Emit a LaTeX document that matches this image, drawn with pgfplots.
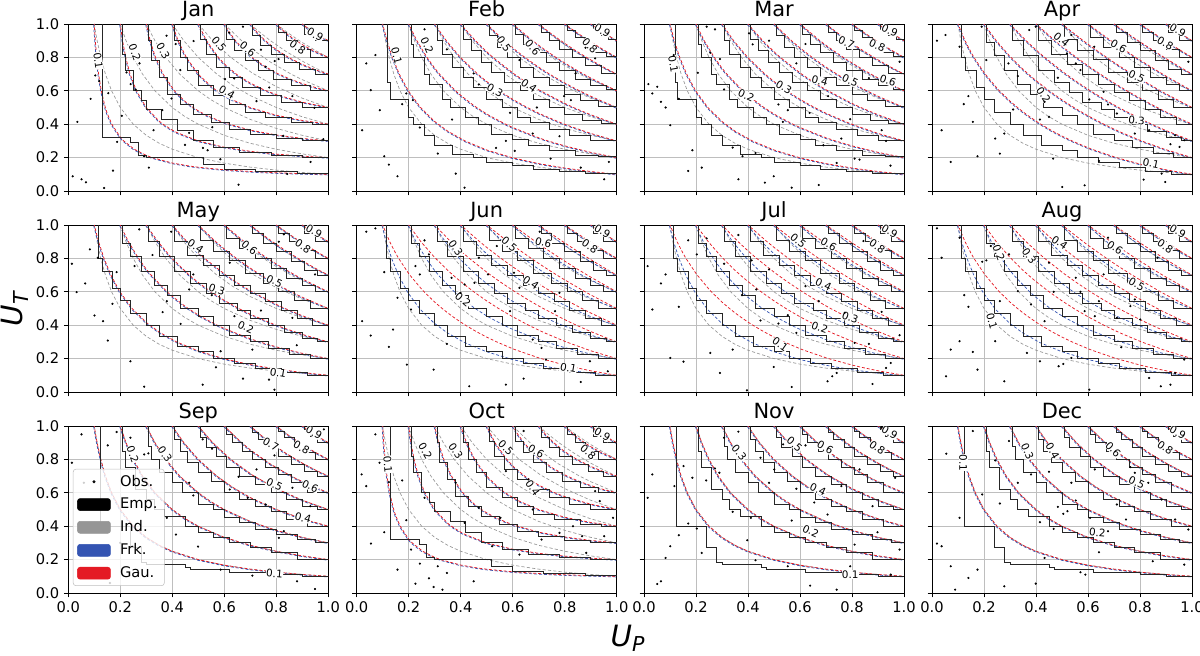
\documentclass[border=0pt]{standalone}
\usepackage{fontspec}
\setmainfont{DejaVu Sans}
\usepackage{pgfplots}
\usepackage{pgfplotstable}
\pgfplotsset{compat=1.18}
\definecolor{gau}{RGB}{228,26,36}
\definecolor{frk}{RGB}{52,84,178}
\definecolor{ind}{RGB}{150,150,150}
\definecolor{gridc}{RGB}{190,190,190}
% ---------- copula contour tables (levels 0.1 ... 0.9, separated by nan rows)
\pgfplotstableread{
x y
0.1 1
0.105 0.952
0.1111 0.9
0.125 0.8
0.1429 0.7
0.1667 0.6
0.2 0.5
0.25 0.4
0.3 0.3333
0.35 0.2857
0.4 0.25
0.5 0.2
0.6 0.1667
0.7 0.1429
0.8 0.125
0.9 0.1111
1 0.1
nan nan
0.2 1
0.2222 0.9
0.25 0.8
0.2857 0.7
0.3333 0.6
0.4 0.5
0.4472 0.4472
0.5 0.4
0.6 0.3333
0.7 0.2857
0.8 0.25
0.9 0.2222
1 0.2
nan nan
0.3 1
0.3333 0.9
0.375 0.8
0.4286 0.7
0.5 0.6
0.5477 0.5477
0.6 0.5
0.7 0.4286
0.8 0.375
0.9 0.3333
1 0.3
nan nan
0.4 1
0.4444 0.9
0.5 0.8
0.5714 0.7
0.6325 0.6325
0.7 0.5714
0.8 0.5
0.9 0.4444
1 0.4
nan nan
0.5 1
0.5556 0.9
0.625 0.8
0.7071 0.7071
0.8 0.625
0.9 0.5556
1 0.5
nan nan
0.6 1
0.6667 0.9
0.7 0.8571
0.7746 0.7746
0.8571 0.7
0.9 0.6667
1 0.6
nan nan
0.7 1
0.7368 0.95
0.7778 0.9
0.8367 0.8367
0.9 0.7778
0.95 0.7368
1 0.7
nan nan
0.8 1
0.8421 0.95
0.8944 0.8944
0.95 0.8421
1 0.8
nan nan
0.9 1
0.925 0.973
0.9487 0.9487
0.973 0.925
1 0.9
}\tabI
\pgfplotstableread{
x y
0.1 1
0.104 0.9
0.1093 0.8
0.1166 0.7
0.127 0.6
0.1425 0.5
0.15 0.4641
0.1675 0.4
0.2 0.3226
0.2134 0.3
0.254 0.25
0.3 0.2134
0.3226 0.2
0.4 0.1675
0.4641 0.15
0.5 0.1425
0.6 0.127
0.7 0.1166
0.8 0.1093
0.9 0.104
1 0.1
nan nan
0.2 1
0.2089 0.9
0.2209 0.8
0.2377 0.7
0.2621 0.6
0.2998 0.5
0.35 0.4177
0.3645 0.4
0.4 0.3645
0.4177 0.35
0.5 0.2998
0.6 0.2621
0.7 0.2377
0.8 0.2209
0.9 0.2089
1 0.2
nan nan
0.3 1
0.315 0.9
0.3355 0.8
0.3647 0.7
0.4085 0.6
0.45 0.5356
0.4801 0.5
0.5 0.4801
0.5356 0.45
0.6 0.4085
0.7 0.3647
0.8 0.3355
0.9 0.315
1 0.3
nan nan
0.4 1
0.4225 0.9
0.4539 0.8
0.4998 0.7
0.55 0.6254
0.5719 0.6
0.6 0.5719
0.6254 0.55
0.7 0.4998
0.8 0.4539
0.9 0.4225
1 0.4
nan nan
0.5 1
0.5318 0.9
0.5773 0.8
0.6 0.762
0.6079 0.75
0.6463 0.7
0.65 0.6958
0.6958 0.65
0.7 0.6463
0.75 0.6079
0.762 0.6
0.8 0.5773
0.9 0.5318
1 0.5
nan nan
0.6 1
0.6198 0.95
0.6435 0.9
0.6722 0.85
0.7 0.8098
0.7075 0.8
0.752 0.75
0.8 0.7075
0.8098 0.7
0.85 0.6722
0.9 0.6435
0.95 0.6198
1 0.6
nan nan
0.7 1
0.7262 0.95
0.7581 0.9
0.7974 0.85
0.8 0.847
0.847 0.8
0.85 0.7974
0.9 0.7581
0.95 0.7262
1 0.7
nan nan
0.8 1
0.8342 0.95
0.85 0.9301
0.8765 0.9
0.9 0.8765
0.9301 0.85
0.95 0.8342
1 0.8
nan nan
0.9 1
0.925 0.9703
0.9442 0.95
0.95 0.9442
0.9703 0.925
1 0.9
}\tabP
\pgfplotstableread{
x y
0.1 1
0.1167 0.9
0.1376 0.8
0.164 0.7
0.1987 0.6
0.2457 0.5
0.3 0.4165
0.35 0.3585
0.4165 0.3
0.5 0.2457
0.6 0.1987
0.7 0.164
0.8 0.1376
0.9 0.1167
1 0.1
nan nan
0.2 1
0.2316 0.9
0.2704 0.8
0.3 0.7359
0.3187 0.7
0.3803 0.6
0.4 0.573
0.45 0.5125
0.4615 0.5
0.5 0.4615
0.5125 0.45
0.573 0.4
0.6 0.3803
0.7 0.3187
0.7359 0.3
0.8 0.2704
0.9 0.2316
1 0.2
nan nan
0.3 1
0.3449 0.9
0.3991 0.8
0.4656 0.7
0.5 0.6558
0.5488 0.6
0.6 0.5488
0.6558 0.5
0.7 0.4656
0.7985 0.4
0.9 0.3449
1 0.3
nan nan
0.4 1
0.4568 0.9
0.5 0.8341
0.5245 0.8
0.6063 0.7
0.65 0.6539
0.6539 0.65
0.7 0.6063
0.8 0.5245
0.8341 0.5
0.9 0.4568
1 0.4
nan nan
0.5 1
0.5674 0.9
0.6 0.8569
0.6469 0.8
0.6921 0.75
0.7 0.7417
0.7417 0.7
0.75 0.6921
0.8 0.6469
0.8569 0.6
0.9 0.5674
1 0.5
nan nan
0.6 1
0.6769 0.9
0.7 0.8728
0.72 0.85
0.7667 0.8
0.8 0.7667
0.85 0.72
0.8728 0.7
0.9 0.6769
1 0.6
nan nan
0.7 1
0.7412 0.95
0.7855 0.9
0.8 0.8843
0.833 0.85
0.85 0.833
0.8843 0.8
0.9 0.7855
0.95 0.7412
1 0.7
nan nan
0.8 1
0.845 0.95
0.8931 0.9
0.9 0.8931
0.95 0.845
1 0.8
nan nan
0.9 1
0.925 0.9738
0.9484 0.95
0.95 0.9484
0.9738 0.925
1 0.9
}\tabW
\pgfplotstableread{
x y
0.1 1
0.1271 0.9
0.15 0.8308
0.1614 0.8
0.2 0.7097
0.2047 0.7
0.25 0.6154
0.2593 0.6
0.3 0.5385
0.3289 0.5
0.35 0.474
0.3708 0.45
0.4 0.4187
0.4187 0.4
0.45 0.3708
0.474 0.35
0.5 0.3289
0.5385 0.3
0.6 0.2593
0.6154 0.25
0.7 0.2047
0.7097 0.2
0.8 0.1614
0.8308 0.15
0.9 0.1271
1 0.1
nan nan
0.2 1
0.2471 0.9
0.3 0.8057
0.35 0.7289
0.3706 0.7
0.4 0.6612
0.45 0.6005
0.4959 0.55
0.5 0.5457
0.5457 0.5
0.55 0.4959
0.6 0.4504
0.6612 0.4
0.7 0.3706
0.7289 0.35
0.8057 0.3
0.9 0.2471
1 0.2
nan nan
0.3 1
0.362 0.9
0.4 0.845
0.4334 0.8
0.5 0.7177
0.5154 0.7
0.55 0.6615
0.6 0.6093
0.6093 0.6
0.6615 0.55
0.7 0.5154
0.7177 0.5
0.8 0.4334
0.845 0.4
0.9 0.362
1 0.3
nan nan
0.4 1
0.4732 0.9
0.5 0.8661
0.5553 0.8
0.6 0.7499
0.6471 0.7
0.65 0.697
0.697 0.65
0.7 0.6471
0.75 0.5999
0.8 0.5553
0.8661 0.5
0.9 0.4732
1 0.4
nan nan
0.5 1
0.5817 0.9
0.6 0.8788
0.6715 0.8
0.7 0.7701
0.7196 0.75
0.75 0.7196
0.7701 0.7
0.8 0.6715
0.8788 0.6
0.9 0.5817
1 0.5
nan nan
0.6 1
0.6882 0.9
0.7 0.8872
0.735 0.85
0.7837 0.8
0.8 0.7837
0.85 0.735
0.8872 0.7
0.9 0.6882
1 0.6
nan nan
0.7 1
0.7458 0.95
0.7932 0.9
0.8 0.8929
0.8422 0.85
0.85 0.8422
0.8929 0.8
0.9 0.7932
0.95 0.7458
1 0.7
nan nan
0.8 1
0.8478 0.95
0.85 0.9477
0.897 0.9
0.9 0.897
0.9477 0.85
0.95 0.8478
1 0.8
nan nan
0.9 1
0.925 0.9745
0.9494 0.95
0.95 0.9494
0.9745 0.925
1 0.9
}\tabN
% ---------- empirical copula contours (step lines)
\pgfplotstableread{
x y
0.12 1
0.13 0.65
0.2 0.55
0.22 0.44
0.26 0.4
0.3 0.33
0.37 0.27
0.45 0.22
0.5 0.2
0.6 0.17
0.68 0.15
0.78 0.13
0.88 0.115
1 0.105
nan nan
0.21 1
0.22 0.88
0.26 0.8
0.28 0.7
0.33 0.64
0.36 0.55
0.42 0.5
0.47 0.44
0.52 0.4
0.6 0.34
0.66 0.31
0.74 0.27
0.84 0.24
0.93 0.215
1 0.205
nan nan
0.31 1
0.33 0.9
0.37 0.82
0.41 0.74
0.45 0.68
0.5 0.62
0.56 0.55
0.62 0.5
0.67 0.44
0.74 0.41
0.82 0.37
0.9 0.33
1 0.305
nan nan
0.41 1
0.44 0.91
0.48 0.84
0.52 0.77
0.57 0.71
0.63 0.65
0.68 0.6
0.74 0.55
0.8 0.5
0.87 0.46
0.94 0.42
1 0.405
nan nan
0.51 1
0.54 0.93
0.58 0.86
0.63 0.8
0.68 0.74
0.74 0.68
0.8 0.63
0.86 0.58
0.93 0.54
1 0.505
nan nan
0.61 1
0.64 0.94
0.68 0.88
0.73 0.83
0.78 0.77
0.84 0.72
0.9 0.67
0.96 0.63
1 0.605
nan nan
0.71 1
0.74 0.95
0.78 0.9
0.83 0.85
0.88 0.8
0.94 0.75
1 0.705
nan nan
0.81 1
0.84 0.96
0.88 0.92
0.92 0.87
0.96 0.83
1 0.805
nan nan
0.91 1
0.94 0.97
0.97 0.93
1 0.905
}\tabEIa
\pgfplotstableread{
x y
0.125 1
0.24 0.4
0.28 0.27
0.3 0.18
0.45 0.17
0.47 0.15
0.62 0.14
0.8 0.12
0.9 0.11
1 0.1
nan nan
0.21 1
0.22 0.85
0.26 0.75
0.3 0.62
0.33 0.56
0.37 0.5
0.45 0.46
0.5 0.4
0.56 0.36
0.62 0.33
0.7 0.3
0.78 0.27
0.88 0.24
1 0.2
nan nan
0.31 1
0.32 0.88
0.35 0.8
0.4 0.72
0.44 0.66
0.5 0.6
0.56 0.53
0.6 0.5
0.66 0.45
0.72 0.42
0.8 0.38
0.88 0.35
0.95 0.32
1 0.3
nan nan
0.41 1
0.43 0.92
0.46 0.85
0.5 0.78
0.55 0.72
0.6 0.67
0.66 0.6
0.72 0.56
0.78 0.52
0.84 0.49
0.92 0.44
1 0.4
nan nan
0.51 1
0.53 0.93
0.57 0.87
0.61 0.82
0.66 0.75
0.72 0.7
0.78 0.65
0.84 0.6
0.9 0.56
0.96 0.52
1 0.5
nan nan
0.61 1
0.63 0.95
0.67 0.9
0.71 0.85
0.76 0.8
0.81 0.75
0.86 0.71
0.92 0.66
1 0.6
nan nan
0.71 1
0.73 0.96
0.77 0.92
0.81 0.87
0.86 0.82
0.91 0.77
0.96 0.73
1 0.7
nan nan
0.81 1
0.83 0.97
0.87 0.93
0.91 0.88
0.95 0.84
1 0.8
nan nan
0.91 1
0.93 0.98
0.96 0.94
1 0.9
}\tabEIb
\pgfplotstableread{
x y
0.13 1
0.24 0.32
0.27 0.29
0.3 0.21
0.52 0.2
0.6 0.16
0.72 0.13
0.88 0.115
1 0.105
nan nan
0.21 1
0.22 0.82
0.25 0.72
0.28 0.6
0.3 0.54
0.36 0.49
0.42 0.43
0.48 0.36
0.56 0.3
0.66 0.26
0.78 0.23
0.9 0.21
1 0.2
nan nan
0.31 1
0.32 0.9
0.35 0.78
0.38 0.68
0.43 0.58
0.48 0.52
0.55 0.46
0.62 0.41
0.7 0.37
0.8 0.34
0.9 0.315
1 0.3
nan nan
0.41 1
0.43 0.9
0.46 0.8
0.5 0.72
0.56 0.63
0.62 0.57
0.68 0.52
0.76 0.47
0.86 0.44
0.94 0.41
1 0.4
nan nan
0.51 1
0.53 0.91
0.57 0.82
0.62 0.74
0.67 0.68
0.74 0.62
0.82 0.57
0.9 0.53
1 0.5
nan nan
0.61 1
0.64 0.91
0.68 0.84
0.73 0.78
0.79 0.72
0.86 0.67
0.93 0.63
1 0.6
nan nan
0.71 1
0.74 0.93
0.78 0.87
0.83 0.82
0.89 0.77
0.95 0.73
1 0.7
nan nan
0.81 1
0.84 0.95
0.88 0.9
0.93 0.85
1 0.8
nan nan
0.91 1
0.95 0.94
1 0.9
}\tabEP
\pgfplotstableread{
x y
0.115 1
0.13 0.8
0.17 0.72
0.2 0.62
0.24 0.55
0.3 0.47
0.35 0.4
0.42 0.33
0.5 0.27
0.56 0.24
0.64 0.2
0.72 0.17
0.82 0.14
0.92 0.115
1 0.1
nan nan
0.21 1
0.24 0.89
0.28 0.81
0.33 0.72
0.38 0.64
0.43 0.58
0.5 0.5
0.56 0.45
0.62 0.4
0.7 0.34
0.77 0.3
0.85 0.26
0.93 0.225
1 0.2
nan nan
0.31 1
0.35 0.9
0.41 0.81
0.47 0.72
0.53 0.65
0.58 0.59
0.65 0.53
0.7 0.49
0.77 0.44
0.83 0.4
0.9 0.355
0.96 0.32
1 0.3
nan nan
0.41 1
0.46 0.9
0.52 0.82
0.58 0.76
0.64 0.7
0.7 0.64
0.76 0.59
0.82 0.54
0.88 0.49
0.94 0.44
1 0.4
nan nan
0.51 1
0.56 0.91
0.62 0.84
0.68 0.79
0.75 0.71
0.81 0.65
0.87 0.6
0.93 0.55
1 0.5
nan nan
0.61 1
0.66 0.92
0.72 0.86
0.78 0.8
0.84 0.74
0.9 0.68
0.95 0.64
1 0.6
nan nan
0.71 1
0.75 0.95
0.8 0.89
0.86 0.84
0.91 0.78
0.96 0.73
1 0.7
nan nan
0.81 1
0.85 0.95
0.9 0.9
0.95 0.85
1 0.8
nan nan
0.91 1
0.95 0.95
1 0.9
}\tabEN
% ---------- observations
\pgfplotstableread{
x y
0.017 0.088
0.051 0.07
0.068 0.052
0.138 0.018
0.035 0.414
0.086 0.552
0.104 0.692
0.119 0.658
0.154 0.586
0.188 0.294
0.172 0.122
0.206 0.45
0.224 0.71
0.24 0.64
0.274 0.764
0.259 0.608
0.292 0.208
0.31 0.14
0.328 0.364
0.362 0.484
0.378 0.93
0.397 0.554
0.413 0.88
0.431 0.724
0.449 0.276
0.465 0.348
0.482 0.898
0.518 0.258
0.536 0.244
0.554 0.382
0.585 0.19
0.603 0.67
0.619 0.948
0.638 0.674
0.655 0.038
0.672 0.984
0.724 0.538
0.741 0.846
0.759 0.744
0.773 0.62
0.794 0.778
0.809 0.79
0.827 0.33
0.862 0.568
0.842 0.102
0.932 0.174
0.947 0.498
0.981 0.31
}\dJan
\pgfplotstableread{
x y
0.037 0.764
0.072 0.814
0.054 0.604
0.021 0.364
0.089 0.484
0.106 0.208
0.124 0.158
0.157 0.088
0.175 0.52
0.191 0.584
0.216 0.544
0.243 0.38
0.261 0.968
0.312 0.224
0.347 0.848
0.367 0.428
0.381 0.104
0.415 0.02
0.45 0.704
0.47 0.638
0.536 0.258
0.574 0.3
0.59 0.468
0.608 0.24
0.626 0.784
0.677 0.344
0.693 0.5
0.746 0.194
0.78 0.328
0.798 0.568
0.824 0.544
0.842 0.704
0.862 0.14
0.88 0.858
0.917 0.794
0.952 0.07
0.97 0.174
}\dFeb
\pgfplotstableread{
x y
0.017 0.64
0.032 0.584
0.051 0.624
0.065 0.534
0.083 0.5
0.101 0.394
0.114 0.814
0.134 0.552
0.17 0.12
0.186 0.244
0.207 0.708
0.222 0.14
0.241 0.984
0.255 0.828
0.273 0.968
0.292 0.79
0.308 0.608
0.341 0.26
0.363 0.07
0.379 0.208
0.404 0.944
0.418 0.878
0.429 0.228
0.465 0.05
0.481 0.9
0.499 0.088
0.517 0.518
0.534 0.414
0.553 0.484
0.568 0.02
0.586 0.764
0.621 0.88
0.637 0.468
0.672 0.036
0.69 0.274
0.708 0.568
0.741 0.168
0.759 0.314
0.793 0.43
0.81 0.194
0.829 0.188
0.865 0.676
0.914 0.364
0.931 0.3
0.948 0.152
0.983 0.774
}\dMar
\pgfplotstableread{
x y
0.019 0.9
0.052 0.934
0.037 0.364
0.072 0.174
0.106 0.864
0.122 0.52
0.14 0.568
0.157 0.414
0.175 0.208
0.191 0.984
0.209 0.784
0.243 0.314
0.261 0.224
0.278 0.344
0.294 0.764
0.312 0.488
0.33 0.688
0.374 0.964
0.399 0.984
0.415 0.428
0.433 0.534
0.45 0.444
0.466 0.194
0.484 0.678
0.501 0.024
0.519 0.824
0.536 0.934
0.553 0.764
0.571 0.724
0.587 0.034
0.605 0.548
0.624 0.864
0.642 0.18
0.66 0.594
0.677 0.518
0.711 0.464
0.78 0.344
0.814 0.068
0.835 0.364
0.883 0.104
0.897 0.054
0.917 0.28
0.935 0.334
0.952 0.264
0.97 0.304
0.986 0.774
}\dApr
\pgfplotstableread{
x y
0.014 0.768
0.032 0.598
0.065 0.65
0.083 0.854
0.101 0.458
0.114 0.804
0.134 0.424
0.152 0.308
0.17 0.528
0.186 0.718
0.239 0.184
0.255 0.754
0.273 0.974
0.292 0.032
0.324 0.82
0.363 0.478
0.379 0.544
0.396 0.96
0.432 0.408
0.465 0.614
0.481 0.704
0.517 0.044
0.552 0.58
0.568 0.148
0.586 0.244
0.621 0.774
0.639 0.454
0.672 0.08
0.708 0.254
0.741 0.488
0.772 0.074
0.793 0.014
0.81 0.9
0.829 0.944
0.862 0.444
0.879 0.28
0.949 0.704
}\dMay
\pgfplotstableread{
x y
0.037 0.96
0.072 0.98
0.106 0.718
0.021 0.424
0.054 0.338
0.124 0.27
0.14 0.374
0.157 0.564
0.193 0.164
0.209 0.494
0.226 0.754
0.243 0.704
0.261 0.908
0.278 0.824
0.296 0.134
0.347 0.288
0.365 0.684
0.399 0.594
0.415 0.644
0.433 0.034
0.453 0.654
0.47 0.804
0.505 0.704
0.539 0.874
0.574 0.044
0.59 0.484
0.605 0.714
0.626 0.624
0.642 0.08
0.677 0.314
0.711 0.264
0.728 0.194
0.763 0.484
0.78 0.594
0.862 0.06
0.897 0.184
0.966 0.124
0.704 0.96
}\dJun
\pgfplotstableread{
x y
0.014 0.754
0.032 0.494
0.065 0.65
0.083 0.704
0.101 0.204
0.134 0.51
0.152 0.182
0.17 0.908
0.203 0.824
0.241 0.92
0.255 0.234
0.308 0.768
0.292 0.114
0.341 0.254
0.363 0.94
0.377 0.58
0.396 0.01
0.414 0.788
0.432 0.614
0.448 0.428
0.481 0.734
0.499 0.15
0.517 0.41
0.553 0.46
0.568 0.03
0.586 0.354
0.621 0.634
0.672 0.544
0.706 0.064
0.724 0.094
0.741 0.114
0.772 0.474
0.81 0.294
0.844 0.904
0.865 0.288
0.879 0.048
0.914 0.48
0.931 0.144
0.949 0.174
0.983 0.34
}\dJul
\pgfplotstableread{
x y
0.019 0.98
0.037 0.804
0.072 0.254
0.054 0.094
0.106 0.924
0.106 0.304
0.124 0.58
0.14 0.51
0.157 0.24
0.175 0.134
0.193 0.78
0.209 0.788
0.226 0.874
0.243 0.304
0.261 0.544
0.278 0.064
0.296 0.824
0.33 0.604
0.365 0.234
0.381 0.524
0.415 0.184
0.433 0.424
0.45 0.774
0.468 0.6
0.487 0.154
0.505 0.168
0.536 0.204
0.553 0.684
0.571 0.6
0.587 0.484
0.605 0.014
0.626 0.454
0.642 0.544
0.66 0.704
0.677 0.924
0.711 0.444
0.728 0.268
0.763 0.514
0.78 0.554
0.801 0.434
0.835 0.084
0.867 0.804
0.88 0.034
0.917 0.044
0.935 0.114
0.97 0.194
}\dAug
\pgfplotstableread{
x y
0.014 0.78
0.051 0.95
0.152 0.884
0.186 0.964
0.239 0.93
0.292 0.83
0.308 0.836
0.379 0.45
0.414 0.35
0.465 0.66
0.481 0.584
0.499 0.278
0.517 0.92
0.553 0.864
0.586 0.14
0.621 0.62
0.655 0.696
0.69 0.57
0.708 0.104
0.724 0.74
0.759 0.53
0.793 0.824
0.81 0.33
0.829 0.37
0.862 0.63
0.88 0.07
0.931 0.52
0.949 0.024
0.983 0.98
0.06 0.66
0.1 0.42
0.2 0.3
0.27 0.12
0.16 0.06
}\dSep
\pgfplotstableread{
x y
0.019 0.71
0.037 0.64
0.055 0.296
0.072 0.95
0.088 0.78
0.106 0.364
0.124 0.664
0.157 0.14
0.175 0.674
0.191 0.436
0.209 0.26
0.226 0.056
0.243 0.176
0.261 0.57
0.278 0.088
0.296 0.036
0.312 0.16
0.33 0.02
0.347 0.12
0.381 0.66
0.415 0.42
0.45 0.07
0.47 0.51
0.521 0.28
0.553 0.45
0.574 0.73
0.626 0.23
0.642 0.97
0.66 0.68
0.677 0.5
0.711 0.32
0.78 0.36
0.832 0.4
0.867 0.34
0.883 0.24
0.917 0.61
0.935 0.55
0.952 0.34
0.986 0.45
}\dOct
\pgfplotstableread{
x y
0.014 0.57
0.032 0.71
0.051 0.054
0.065 0.07
0.083 0.21
0.101 0.28
0.117 0.64
0.134 0.346
0.152 0.76
0.17 0.416
0.186 0.69
0.203 0.386
0.222 0.24
0.239 0.674
0.273 0.746
0.29 0.72
0.308 0.93
0.341 0.486
0.363 0.966
0.397 0.316
0.411 0.45
0.429 0.196
0.448 0.81
0.481 0.66
0.501 0.74
0.535 0.89
0.553 0.16
0.568 0.434
0.586 0.624
0.621 0.884
0.639 0.044
0.655 0.542
0.706 0.47
0.741 0.02
0.759 0.64
0.793 0.16
0.81 0.29
0.829 0.74
0.879 0.52
0.898 0.364
0.914 0.99
0.949 0.11
0.983 0.26
0.966 0.69
}\dNov
\pgfplotstableread{
x y
0.019 0.296
0.037 0.28
0.055 0.834
0.072 0.16
0.089 0.02
0.106 0.45
0.14 0.09
0.157 0.97
0.175 0.14
0.193 0.59
0.243 0.794
0.261 0.536
0.278 0.04
0.296 0.91
0.33 0.66
0.381 0.71
0.399 0.056
0.415 0.424
0.433 0.21
0.45 0.726
0.468 0.384
0.484 0.516
0.505 0.474
0.521 0.49
0.536 0.66
0.553 0.554
0.571 0.124
0.59 0.11
0.608 0.45
0.626 0.74
0.642 0.244
0.677 0.37
0.711 0.53
0.746 0.44
0.763 0.754
0.78 0.72
0.832 0.66
0.849 0.19
0.883 0.56
0.935 0.44
0.97 0.17
0.986 0.38
}\dDec
\tikzset{clab/.style={font=\fontsize{7.8}{9}\selectfont, fill=white, inner sep=0.3pt}}
\pgfplotsset{
  cpanel/.style={
    scale only axis, width=195pt, height=125.25pt, anchor=north west,
    xmin=0, xmax=1, ymin=0, ymax=1,
    xtick={0,0.2,0.4,0.6,0.8,1}, ytick={0,0.2,0.4,0.6,0.8,1},
    xticklabels={}, yticklabels={},
    grid=major, major grid style={gridc, line width=0.55pt},
    tick align=outside, tick pos=left, major tick length=3.3pt,
    tick style={black, line width=0.6pt},
    axis line style={black, line width=0.6pt},
    ticklabel style={font=\fontsize{11}{13}\selectfont},
    title style={font=\fontsize{15.7}{18}\selectfont, at={(0.5,1)}, anchor=base, yshift=-0.5pt},
    unbounded coords=jump,
  },
  leftcol/.style={yticklabels={0.0,0.2,0.4,0.6,0.8,1.0}},
  botrow/.style={xticklabels={0.0,0.2,0.4,0.6,0.8,1.0}},
  indl/.style={ind, line width=0.5pt, dash pattern=on 2.4pt off 1.6pt, forget plot},
  frkl/.style={frk, line width=0.55pt, dash pattern=on 2.2pt off 1.5pt, xshift=-0.45pt, yshift=-0.45pt, forget plot},
  gaul/.style={gau, line width=0.55pt, dash pattern=on 2.2pt off 1.5pt, dash phase=1.2pt, forget plot},
  empl/.style={black!85, line width=0.7pt, const plot mark right, forget plot},
  obsm/.style={only marks, mark=*, mark size=0.6pt, black, forget plot},
}
\newcommand{\lab}[4]{\node[clab, rotate=#3] at (axis cs:#1,#2) {#4};}
\newcommand{\panel}[8]{%
\begin{axis}[cpanel, at={#1}, title={#2}, #8]
\addplot[indl] table {\tabI};
\addplot[frkl] table {#3};
\addplot[gaul] table {#4};
\addplot[empl] table {#5};
\addplot[obsm] table {#6};
#7
\end{axis}}
\begin{document}
\begin{tikzpicture}
\path[use as bounding box] (0,0) rectangle (900pt,-492pt);
\panel{(51.2pt,-18pt)}{Jan}{\tabP}{\tabP}{\tabEP}{\dJan}{\lab{0.115}{0.78}{-82}{0.1}\lab{0.256}{0.83}{-70}{0.2}\lab{0.365}{0.84}{-60}{0.3}\lab{0.61}{0.59}{-30}{0.4}\lab{0.58}{0.88}{-50}{0.5}\lab{0.69}{0.85}{-38}{0.6}\lab{0.882}{0.86}{-35}{0.8}\lab{0.95}{0.935}{-30}{0.9}}{leftcol}
\panel{(267.5pt,-18pt)}{Feb}{\tabW}{\tabW}{\tabEIa}{\dFeb}{\lab{0.154}{0.81}{-75}{0.1}\lab{0.271}{0.87}{-65}{0.2}\lab{0.532}{0.60}{-30}{0.3}\lab{0.663}{0.63}{-35}{0.4}\lab{0.567}{0.88}{-55}{0.5}\lab{0.677}{0.86}{-50}{0.6}\lab{0.897}{0.87}{-45}{0.8}\lab{0.945}{0.96}{-30}{0.9}}{}
\panel{(483pt,-18pt)}{Mar}{\tabW}{\tabW}{\tabEIa}{\dMar}{\lab{0.113}{0.76}{-80}{0.1}\lab{0.393}{0.57}{-25}{0.2}\lab{0.538}{0.62}{-30}{0.3}\lab{0.676}{0.66}{-15}{0.4}\lab{0.793}{0.66}{-25}{0.5}\lab{0.938}{0.66}{-20}{0.6}\lab{0.779}{0.89}{-25}{0.7}\lab{0.897}{0.87}{-25}{0.8}\lab{0.945}{0.96}{-25}{0.9}}{}
\panel{(699pt,-18pt)}{Apr}{\tabN}{\tabN}{\tabEN}{\dApr}{\lab{0.842}{0.164}{-12}{0.1}\lab{0.429}{0.574}{-55}{0.2}\lab{0.787}{0.424}{-5}{0.3}\lab{0.498}{0.904}{-40}{0.4}\lab{0.787}{0.684}{-25}{0.5}\lab{0.718}{0.864}{-30}{0.6}\lab{0.897}{0.884}{-30}{0.8}\lab{0.945}{0.964}{-30}{0.9}}{}
\panel{(51.2pt,-168.75pt)}{May}{\tabW}{\tabW}{\tabEN}{\dMay}{\lab{0.807}{0.114}{-10}{0.1}\lab{0.683}{0.388}{-25}{0.2}\lab{0.572}{0.614}{-20}{0.3}\lab{0.49}{0.874}{-35}{0.4}\lab{0.793}{0.664}{-25}{0.5}\lab{0.697}{0.864}{-40}{0.6}\lab{0.903}{0.874}{-35}{0.8}\lab{0.945}{0.964}{-30}{0.9}}{leftcol}
\panel{(267.5pt,-168.75pt)}{Jun}{\tabW}{\tabN}{\tabEN}{\dJun}{\lab{0.814}{0.144}{-10}{0.1}\lab{0.409}{0.554}{-40}{0.2}\lab{0.381}{0.864}{-55}{0.3}\lab{0.67}{0.654}{-35}{0.4}\lab{0.587}{0.884}{-40}{0.5}\lab{0.718}{0.894}{-15}{0.6}\lab{0.897}{0.874}{-35}{0.8}\lab{0.945}{0.964}{-30}{0.9}}{}
\panel{(483pt,-168.75pt)}{Jul}{\tabW}{\tabN}{\tabEN}{\dJul}{\lab{0.524}{0.284}{-35}{0.1}\lab{0.676}{0.384}{-20}{0.2}\lab{0.793}{0.444}{-20}{0.3}\lab{0.69}{0.644}{-25}{0.4}\lab{0.593}{0.904}{-40}{0.5}\lab{0.71}{0.884}{-30}{0.6}\lab{0.897}{0.874}{-35}{0.8}\lab{0.945}{0.964}{-30}{0.9}}{}
\panel{(699pt,-168.75pt)}{Aug}{\tabW}{\tabN}{\tabEN}{\dAug}{\lab{0.23}{0.424}{-75}{0.1}\lab{0.257}{0.834}{-70}{0.2}\lab{0.374}{0.814}{-55}{0.3}\lab{0.491}{0.894}{-35}{0.4}\lab{0.787}{0.644}{-30}{0.5}\lab{0.704}{0.864}{-35}{0.6}\lab{0.897}{0.874}{-35}{0.8}\lab{0.945}{0.964}{-30}{0.9}}{}
\panel{(51.2pt,-319.5pt)}{Sep}{\tabI}{\tabI}{\tabEIb}{\dSep}{\lab{0.793}{0.116}{-5}{0.1}\lab{0.248}{0.83}{-70}{0.2}\lab{0.372}{0.83}{-55}{0.3}\lab{0.903}{0.45}{-15}{0.4}\lab{0.793}{0.65}{-25}{0.5}\lab{0.931}{0.64}{-25}{0.6}\lab{0.779}{0.89}{-30}{0.7}\lab{0.897}{0.87}{-30}{0.8}\lab{0.945}{0.96}{-30}{0.9}%
\addlegendimage{legend image code/.code={\fill[black, fill opacity=1] (12.4pt,0pt) circle (0.9pt);}}\addlegendentry{Obs.}%
\addlegendimage{legend image code/.code={\fill[black, fill opacity=1] (0pt,-4.5pt) rectangle (24.75pt,4.5pt);}}\addlegendentry{Emp.}%
\addlegendimage{legend image code/.code={\fill[ind, fill opacity=1] (0pt,-4.5pt) rectangle (24.75pt,4.5pt);}}\addlegendentry{Ind.}%
\addlegendimage{legend image code/.code={\fill[frk, fill opacity=1] (0pt,-4.5pt) rectangle (24.75pt,4.5pt);}}\addlegendentry{Frk.}%
\addlegendimage{legend image code/.code={\fill[gau, fill opacity=1] (0pt,-4.5pt) rectangle (24.75pt,4.5pt);}}\addlegendentry{Gau.}}{leftcol,botrow,legend cell align=left,legend style={at={(0.018,0.743)}, anchor=north west, draw=gray!50, rounded corners=2pt, fill=white, fill opacity=0.8, text opacity=1, font=\fontsize{11}{13}\selectfont, row sep=3.4pt, inner xsep=3pt, inner ysep=2.5pt, /tikz/every odd column/.append style={column sep=5pt}}}
\panel{(267.5pt,-319.5pt)}{Oct}{\tabP}{\tabP}{\tabEP}{\dOct}{\lab{0.12}{0.77}{-85}{0.1}\lab{0.264}{0.85}{-60}{0.2}\lab{0.381}{0.85}{-55}{0.3}\lab{0.677}{0.63}{-55}{0.4}\lab{0.574}{0.87}{-45}{0.5}\lab{0.69}{0.85}{-30}{0.6}\lab{0.89}{0.844}{-40}{0.8}\lab{0.945}{0.95}{-30}{0.9}}{botrow}
\panel{(483pt,-319.5pt)}{Nov}{\tabI}{\tabI}{\tabEIb}{\dNov}{\lab{0.793}{0.11}{0}{0.1}\lab{0.641}{0.37}{-25}{0.2}\lab{0.366}{0.84}{-50}{0.3}\lab{0.669}{0.62}{-25}{0.4}\lab{0.579}{0.89}{-40}{0.5}\lab{0.697}{0.87}{-30}{0.6}\lab{0.897}{0.87}{-35}{0.8}\lab{0.945}{0.96}{-30}{0.9}}{botrow}
\panel{(699pt,-319.5pt)}{Dec}{\tabI}{\tabI}{\tabEIb}{\dDec}{\lab{0.12}{0.78}{-90}{0.1}\lab{0.636}{0.36}{-5}{0.2}\lab{0.367}{0.85}{-65}{0.3}\lab{0.464}{0.85}{-60}{0.4}\lab{0.787}{0.66}{-25}{0.5}\lab{0.697}{0.86}{-45}{0.6}\lab{0.897}{0.87}{-35}{0.8}\lab{0.945}{0.96}{-30}{0.9}}{botrow}
\node[rotate=90, font=\fontsize{22}{26}\selectfont] at (11pt,-231pt) {\textit{U}\textsubscript{\textit{T}}};
\node[anchor=base, font=\fontsize{22}{26}\selectfont] at (471pt,-484.5pt) {\textit{U}\textsubscript{\textit{P}}};
\end{tikzpicture}
\end{document}
